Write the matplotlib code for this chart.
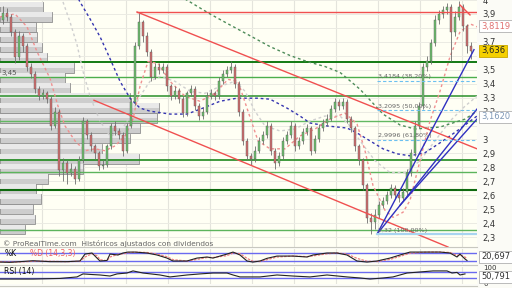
import numpy as np
import matplotlib.pyplot as plt

# ---- candles (one every ~4 px in the reference) ----
opens = [3.86, 3.91, 3.88, 3.77, 3.59, 3.74, 3.67, 3.52, 3.47, 3.36,
         3.31, 3.33, 3.29, 3.10, 3.20, 2.78, 2.83, 2.76, 2.79, 2.72,
         2.85, 3.13, 3.03, 2.95, 2.90, 2.81, 2.82, 2.95, 3.10, 3.06,
         3.03, 2.92, 3.10, 3.27, 3.67, 3.84, 3.74, 3.63, 3.45, 3.52,
         3.50, 3.52, 3.38, 3.31, 3.35, 3.29, 3.19, 3.33, 3.36, 3.24,
         3.17, 3.20, 3.31, 3.33, 3.31, 3.42, 3.47, 3.50, 3.52, 3.40,
         3.20, 2.99, 2.88, 2.86, 2.92, 2.99, 3.03, 3.10, 2.92, 2.83,
         2.88, 2.99, 3.03, 3.10, 2.95, 2.99, 3.05, 3.08, 2.92, 3.00,
         3.08, 3.12, 3.15, 3.22, 3.27, 3.24, 3.27, 3.15, 3.08, 2.95,
         2.85, 2.67, 2.44, 2.41, 2.46, 2.53, 2.56, 2.60, 2.65, 2.60,
         2.58, 2.62, 2.76, 2.90, 3.10, 3.24, 3.52, 3.56, 3.69, 3.86,
         3.90, 3.93, 3.95, 3.77, 3.88, 3.95, 3.81, 3.67]
closes = [3.91, 3.88, 3.77, 3.59, 3.74, 3.67, 3.52, 3.47, 3.36, 3.31,
          3.33, 3.29, 3.10, 3.20, 2.78, 2.83, 2.76, 2.79, 2.72, 2.85,
          3.13, 3.03, 2.95, 2.90, 2.81, 2.82, 2.95, 3.10, 3.06, 3.03,
          2.92, 3.10, 3.27, 3.67, 3.84, 3.74, 3.63, 3.45, 3.52, 3.50,
          3.52, 3.38, 3.31, 3.35, 3.29, 3.19, 3.33, 3.36, 3.24, 3.17,
          3.20, 3.31, 3.33, 3.31, 3.42, 3.47, 3.50, 3.52, 3.40, 3.20,
          2.99, 2.88, 2.86, 2.92, 2.99, 3.03, 3.10, 2.92, 2.83, 2.88,
          2.99, 3.03, 3.10, 2.95, 2.99, 3.05, 3.08, 2.92, 3.00, 3.08,
          3.12, 3.15, 3.22, 3.27, 3.24, 3.27, 3.15, 3.08, 2.95, 2.85,
          2.67, 2.44, 2.41, 2.46, 2.53, 2.56, 2.60, 2.65, 2.60, 2.58,
          2.62, 2.76, 2.90, 3.10, 3.24, 3.52, 3.56, 3.69, 3.86, 3.90,
          3.93, 3.95, 3.77, 3.88, 3.95, 3.81, 3.67, 3.636]
highs = [3.96, 3.94, 3.90, 3.79, 3.78, 3.76, 3.69, 3.55, 3.49, 3.38,
         3.36, 3.35, 3.31, 3.23, 3.22, 2.87, 2.85, 2.83, 2.81, 2.88,
         3.16, 3.15, 3.05, 2.97, 2.92, 2.85, 2.97, 3.12, 3.13, 3.08,
         3.05, 3.12, 3.30, 3.70, 3.91, 3.86, 3.77, 3.65, 3.55, 3.55,
         3.55, 3.54, 3.40, 3.38, 3.37, 3.31, 3.35, 3.39, 3.38, 3.26,
         3.23, 3.34, 3.36, 3.35, 3.45, 3.50, 3.53, 3.56, 3.54, 3.42,
         3.22, 3.01, 2.90, 2.95, 3.02, 3.06, 3.13, 3.12, 2.94, 2.91,
         3.02, 3.06, 3.13, 3.12, 3.02, 3.08, 3.11, 3.10, 3.03, 3.11,
         3.15, 3.18, 3.25, 3.30, 3.29, 3.30, 3.29, 3.17, 3.10, 2.97,
         2.87, 2.69, 2.47, 2.50, 2.56, 2.59, 2.63, 2.68, 2.67, 2.62,
         2.65, 2.79, 2.93, 3.13, 3.27, 3.55, 3.60, 3.72, 3.89, 3.93,
         3.96, 3.98, 3.97, 3.92, 3.99, 3.97, 3.83, 3.70]
lows = [3.83, 3.85, 3.74, 3.55, 3.57, 3.63, 3.49, 3.44, 3.33, 3.28,
        3.29, 3.26, 3.07, 3.08, 2.74, 2.70, 2.68, 2.74, 2.68, 2.70,
        2.83, 3.00, 2.92, 2.86, 2.78, 2.79, 2.80, 2.93, 3.03, 3.00,
        2.88, 2.90, 3.08, 3.25, 3.65, 3.70, 3.60, 3.42, 3.43, 3.47,
        3.48, 3.35, 3.28, 3.29, 3.26, 3.16, 3.17, 3.31, 3.21, 3.14,
        3.15, 3.18, 3.29, 3.28, 3.29, 3.40, 3.45, 3.48, 3.37, 3.17,
        2.96, 2.85, 2.82, 2.84, 2.90, 2.97, 3.01, 2.89, 2.79, 2.81,
        2.86, 2.97, 3.01, 2.92, 2.93, 2.97, 3.03, 2.89, 2.90, 2.98,
        3.06, 3.10, 3.13, 3.20, 3.21, 3.22, 3.12, 3.05, 2.92, 2.82,
        2.64, 2.40, 2.32, 2.36, 2.44, 2.51, 2.54, 2.58, 2.57, 2.55,
        2.56, 2.60, 2.74, 2.88, 3.08, 3.22, 3.49, 3.54, 3.67, 3.83,
        3.87, 3.90, 3.56, 3.74, 3.86, 3.78, 3.62, 3.58]

# ---- volume profile (price bin centre, relative volume) ----
vp_price = [3.950, 3.878, 3.805, 3.732, 3.660, 3.587, 3.515, 3.442, 3.370, 3.297,
            3.225, 3.152, 3.080, 3.007, 2.934, 2.862, 2.789, 2.717, 2.644, 2.572,
            2.499, 2.427, 2.354]
vp_volume = [43, 52, 36, 37, 42, 47, 74, 65, 70, 130,
             159, 157, 140, 130, 102, 139, 83, 48, 36, 41,
             33, 35, 25]

# ---- support / resistance levels ----
green_levels = [3.552, 3.445, 3.310, 3.132, 2.855, 2.770, 2.641, 2.350]
green_colors = ['#137a13', '#4cae4c', '#2a8f2a', '#62b862', '#1f8a1f', '#5cb45c', '#0f6a0f', '#5cb45c']
green_widths = [1.4, 1.0, 1.1, 1.0, 1.2, 1.0, 1.5, 1.0]

# ---- trend lines: (x0, y0, x1, y1) in (bar index, price) ----
red_lines = [(33.5, 3.914, 118.5, 2.933),
             (22.75, 3.281, 111.25, 2.229),
             (33.5, 3.915, 118.5, 3.915),
             (114.25, 3.964, 116.75, 3.893)]
blue_lines = [(93.5, 2.321, 117.75, 3.644),
              (93.5, 2.321, 118.5, 3.218),
              (99.25, 2.528, 118.5, 3.146)]

# ---- fibonacci retracement ----
fib_levels = [3.4184, 3.2095, 2.9996, 2.32]
fib_labels = ['3,4184 (38,20%)', '3,2095 (50,00%)', '2,9996 (61,80%)', '2,32 (100,00%)']
fib_start = 93.5

# ---- moving averages (bar index, price) ----
ma_green_x = [41.75, 46.75, 51.75, 56.25, 61.75, 66.75, 71.75, 76.0, 80.5, 84.25,
              89.25, 95.0, 99.25, 103.0, 109.25, 115.5, 118.5]
ma_green_y = [4.07, 3.986, 3.900, 3.829, 3.744, 3.666, 3.602, 3.559, 3.523, 3.481,
              3.360, 3.182, 3.104, 3.075, 3.089, 3.146, 3.203]
ma_blue_x = [18.0, 19.25, 21.75, 24.25, 26.75, 29.25, 31.75, 34.25, 36.75, 41.75,
             46.0, 50.0, 54.25, 58.5, 63.5, 66.75, 71.0, 74.25, 76.75, 81.0,
             86.0, 88.5, 91.75, 95.0, 98.5, 101.75, 105.5, 110.0, 113.5, 118.5]
ma_blue_y = [4.057, 3.986, 3.865, 3.737, 3.580, 3.417, 3.296, 3.225, 3.203, 3.182,
             3.182, 3.225, 3.274, 3.296, 3.296, 3.289, 3.225, 3.168, 3.118, 3.097,
             3.082, 3.047, 2.990, 2.933, 2.897, 2.883, 2.905, 2.990, 3.061, 3.168]
ma_pink_x = [-0.75, 3.0, 6.0, 8.5, 11.75, 13.75, 15.5, 18.0, 20.5, 23.0,
             25.5, 28.0, 30.5, 32.5, 34.25, 36.25, 38.75, 41.75, 45.5, 49.25,
             53.0, 56.25, 58.75, 61.25, 63.75, 66.75, 70.5, 74.25, 78.0, 81.75,
             85.5, 88.5, 90.5, 92.5, 95.5, 97.5, 100.0, 101.75, 104.25, 106.75,
             109.25, 111.75, 114.25, 116.75, 118.5]
ma_pink_y = [3.879, 3.900, 3.808, 3.630, 3.438, 3.239, 3.097, 2.990, 2.919, 2.933,
             2.919, 2.954, 3.025, 3.146, 3.381, 3.559, 3.545, 3.417, 3.310, 3.274,
             3.331, 3.431, 3.417, 3.203, 2.990, 2.933, 2.933, 3.025, 3.075, 3.146,
             3.189, 3.111, 2.919, 2.670, 2.492, 2.442, 2.478, 2.563, 2.848, 3.132,
             3.346, 3.594, 3.772, 3.829, 3.808]
ma_gray_x = [15.0, 16.75, 18.5, 20.0, 21.75, 24.25, 26.75, 29.25, 31.75, 34.25,
             36.75, 39.25, 43.0, 46.75, 50.5, 54.25, 58.0, 60.5, 63.0, 65.5,
             69.25, 73.0, 76.75, 80.5, 84.25, 86.75, 89.25, 93.0, 96.75, 100.5,
             104.25, 108.0, 111.75, 115.5, 118.5]
ma_gray_y = [3.986, 3.843, 3.680, 3.488, 3.310, 3.132, 3.025, 3.047, 3.168, 3.310,
             3.417, 3.452, 3.417, 3.346, 3.331, 3.381, 3.417, 3.346, 3.203, 3.097,
             3.061, 3.075, 3.132, 3.168, 3.168, 3.097, 2.990, 2.848, 2.762, 2.762,
             2.848, 2.990, 3.132, 3.239, 3.310]

# ---- stochastic %K / %D ----
stoch_x = [-0.75, 1.75, 4.25, 7.5, 11.75, 16.0, 19.25, 20.5, 22.25, 23.5,
           24.25, 26.0, 26.75, 28.75, 30.0, 31.25, 33.0, 36.0, 38.5, 41.0,
           42.5, 46.0, 48.5, 51.0, 52.5, 56.0, 57.5, 59.25, 61.0, 62.5,
           64.25, 66.0, 68.5, 72.5, 76.0, 77.5, 81.0, 83.5, 86.0, 88.5,
           91.0, 93.5, 96.75, 99.25, 101.75, 106.0, 109.25, 111.75, 113.5, 114.25,
           115.5, 116.0]
stoch_k = [12, 10, 15, 22, 15, 15, 20, 72, 80, 42,
           20, 24, 72, 65, 80, 87, 87, 80, 65, 42,
           20, 20, 42, 50, 42, 72, 87, 65, 20, 12,
           20, 40, 57, 57, 50, 65, 80, 80, 65, 20,
           12, 20, 42, 65, 87, 87, 87, 80, 50, 72,
           35, 24]
stoch_d = [14, 12, 13, 18, 18, 15, 18, 50, 75, 60,
           30, 22, 50, 70, 74, 82, 86, 84, 72, 52,
           30, 20, 32, 46, 46, 60, 80, 75, 40, 18,
           16, 30, 50, 57, 53, 58, 74, 80, 72, 40,
           18, 16, 32, 55, 78, 87, 87, 84, 62, 65,
           50, 35]

# ---- RSI(14) ----
rsi_x = [-0.75, 4.25, 7.5, 14.25, 18.5, 20.0, 22.25, 24.25, 26.75, 28.5,
         31.0, 32.5, 35.0, 39.25, 41.75, 46.0, 49.25, 52.5, 56.0, 57.5,
         59.25, 62.5, 64.25, 68.5, 72.5, 76.75, 81.0, 86.0, 89.25, 91.75,
         95.0, 97.5, 101.0, 104.25, 107.5, 111.0, 112.25, 113.5, 114.25, 115.5]
rsi_v = [25, 25, 25, 29, 39, 59, 55, 52, 45, 59,
         65, 79, 65, 52, 39, 52, 59, 65, 65, 52,
         39, 39, 39, 52, 45, 39, 52, 39, 32, 25,
         32, 39, 65, 72, 79, 79, 65, 69, 52, 59]

date_grid = [9.75, 20.25, 30.75, 41.25, 51.75, 62.25, 72.75, 83.25, 93.75, 104.25, 114.75]
price_ticks = [2.3, 2.4, 2.5, 2.6, 2.7, 2.8, 2.9, 3.0, 3.2, 3.3, 3.4, 3.5, 3.7, 3.9, 4.0]

BG = '#fffff4'
XLIM = (-0.75, 118.5)

fig = plt.figure(figsize=(5.12, 2.88), dpi=100, facecolor='#fbfbf6')
ax = fig.add_axes([0, 41 / 288, 477 / 512, 247 / 288])
ax_st = fig.add_axes([0, 24 / 288, 477 / 512, 15 / 288])
ax_rsi = fig.add_axes([0, 4 / 288, 477 / 512, 17 / 288])

for a in (ax, ax_st, ax_rsi):
    a.set_facecolor(BG)
    a.set_xlim(*XLIM)
    for s in a.spines.values():
        s.set_visible(False)
    a.set_xticks([])
    for g in date_grid:
        a.axvline(g, color='#e4e4dc', lw=0.8, zorder=0)

# ---- main panel ----
ax.set_ylim(2.229, 3.986)
for p in np.arange(2.3, 4.01, 0.1):
    ax.axhline(p, color='#ebebe3', lw=0.7, zorder=0)

vp = np.array(vp_volume) * 0.25
ax.barh(vp_price, vp, height=0.070, left=XLIM[0], color='#cdcdcd',
        edgecolor='#8f8f8f', lw=0.6, zorder=1)
ax.barh(np.array(vp_price) + 0.017, vp - 0.2, height=0.033, left=XLIM[0] + 0.1,
        color='#e9e9e9', lw=0, zorder=1.1)
ax.text(-0.4, 3.474, '3,45', fontsize=5, color='#555555', va='center', zorder=2)

for lvl, c, w in zip(green_levels, green_colors, green_widths):
    ax.axhline(lvl, color=c, lw=w, zorder=3)

ax.plot(ma_gray_x, ma_gray_y, color='#cfcfcf', lw=1, dashes=(2, 2), zorder=3)
ax.plot(ma_green_x, ma_green_y, color='#4e8c5a', lw=1, dashes=(2, 2), zorder=3)
ax.plot(ma_blue_x, ma_blue_y, color='#3535b0', lw=1, dashes=(2, 2), zorder=3)
ax.plot(ma_pink_x, ma_pink_y, color='#f09090', lw=1, dashes=(2, 2), zorder=3)

idx = np.arange(len(closes))
o = np.array(opens)
c = np.array(closes)
up = c >= o
ax.vlines(idx, lows, highs, color='#6e6e6e', lw=0.6, zorder=4)
ax.bar(idx[up], (c - o)[up], bottom=o[up], width=0.55, color='#6cbf6c',
       edgecolor='#5a5a5a', lw=0.3, zorder=5)
ax.bar(idx[~up], (o - c)[~up], bottom=c[~up], width=0.55, color='#d26e6e',
       edgecolor='#5a5a5a', lw=0.3, zorder=5)

for x0, y0, x1, y1 in red_lines:
    ax.plot([x0, x1], [y0, y1], color='#f05050', lw=1, zorder=6)
for x0, y0, x1, y1 in blue_lines:
    ax.plot([x0, x1], [y0, y1], color='#3030c0', lw=1, zorder=6)

for lvl, lab in zip(fib_levels, fib_labels):
    if lvl == fib_levels[-1]:
        ax.plot([fib_start, XLIM[1]], [lvl, lvl], color='#a8d4f0', lw=1.6, zorder=6)
    else:
        ax.plot([fib_start, XLIM[1]], [lvl, lvl], color='#6cc0f0', lw=0.8,
                dashes=(3, 2), zorder=6)
    ax.text(fib_start + 0.2, lvl + 0.012, lab, fontsize=4.6, color='#666666',
            va='bottom', zorder=7)

ax.text(0.1, 2.232, '\u00a9 ProRealTime.com  Históricos ajustados con dividendos',
        fontsize=5.3, color='#666666', va='bottom', zorder=8)

ax.yaxis.tick_right()
ax.set_yticks(price_ticks)
ax.set_yticklabels([('%g' % t).replace('.', ',') for t in price_ticks])
ax.tick_params(axis='y', length=0, pad=4, labelsize=6, labelcolor='#333333')

box = dict(boxstyle='square,pad=0.2', fc='white', ec='#b0b0b0', lw=0.6)
ax.text(XLIM[1] + 1.0, 3.8119, '3,8119', fontsize=6, color='#e07070', va='center',
        bbox=box, zorder=9, clip_on=False)
ax.text(XLIM[1] + 1.0, 3.636, '3,636', fontsize=6, color='#222222', va='center',
        bbox=dict(boxstyle='square,pad=0.2', fc='#f5d000', ec='#c8a800', lw=0.6),
        zorder=9, clip_on=False)
ax.text(XLIM[1] + 1.0, 3.162, '3,1620', fontsize=6, color='#7d97b5', va='center',
        bbox=box, zorder=9, clip_on=False)

# ---- stochastic ----
ax_st.set_ylim(-2.5, 110)
ax_st.set_yticks([])
for lvl in (80, 20):
    ax_st.axhline(lvl, color='#6a6af0', lw=1, zorder=1)
ax_st.plot(stoch_x, stoch_d, color='#f08080', lw=0.9, dashes=(2, 1), zorder=2)
ax_st.plot(stoch_x, stoch_k, color='#222222', lw=0.8, zorder=3)
ax_st.text(0.3, 108, '%K', fontsize=5.5, color='#111111', va='top', zorder=4)
ax_st.text(6.8, 108, '%D (14,3,3)', fontsize=5.5, color='#f06060', va='top', zorder=4)
ax_st.text(XLIM[1] + 1.0, 50, '20,697', fontsize=6, color='#333333', va='center',
           bbox=box, zorder=9, clip_on=False)

# ---- RSI ----
ax_rsi.set_ylim(-8, 105)
ax_rsi.set_yticks([])
for lvl in (70, 30):
    ax_rsi.axhline(lvl, color='#6a6af0', lw=1, zorder=1)
ax_rsi.plot(rsi_x, rsi_v, color='#222222', lw=0.8, zorder=3)
ax_rsi.text(0.3, 103, 'RSI (14)', fontsize=5.5, color='#111111', va='top', zorder=4)
ax_rsi.text(XLIM[1] + 1.5, 98, '100', fontsize=5, color='#333333', va='center',
            clip_on=False)
ax_rsi.text(XLIM[1] + 1.0, 40, '50,791', fontsize=6, color='#333333', va='center',
            bbox=box, zorder=9, clip_on=False)
ax_rsi.text(XLIM[1] + 1.5, -6, '0', fontsize=5, color='#333333', va='center',
            clip_on=False)

for yy in (247, 265, 286):
    fig.add_artist(plt.Line2D([0, 477 / 512], [1 - yy / 288] * 2, color='#c8c8c0', lw=0.8))

fig.savefig('out.png', dpi=100, facecolor=fig.get_facecolor())
